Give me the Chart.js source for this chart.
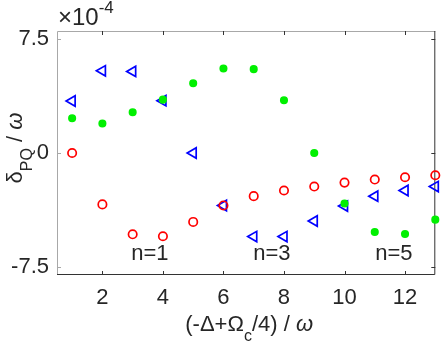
<!DOCTYPE html>
<html><head><meta charset="utf-8">
<script src="https://cdn.jsdelivr.net/npm/chart.js@4/dist/chart.umd.min.js"></script>
<style>html,body{margin:0;padding:0;background:#fff}#wrap{width:443px;height:343px}</style>
</head><body><div id="wrap"><canvas id="c" width="443" height="343"></canvas></div>
<script>
// x: (-Δ+Ωc/4)/ω ; y values in units of 1e-4
const detuning = [1,2,3,4,5,6,7,8,9,10,11,12,13];
const redCircles = [0.00,-3.37,-5.33,-5.46,-4.52,-3.44,-2.83,-2.46,-2.20,-1.94,-1.74,-1.59,-1.46];
const blueTriangles = [3.41,5.39,5.35,3.43,0.00,-3.44,-5.48,-5.48,-4.46,-3.48,-2.83,-2.46,-2.20];
const greenDots = [2.28,1.93,2.67,3.50,4.57,5.54,5.50,3.46,0.00,-3.31,-5.18,-5.31,-4.37];
const xTicks = [2,4,6,8,10,12];
const yTicks = [-7.5,0,7.5];
const bandLabels = ['n=1','n=3','n=5'];
const bandLabelX = [3.57,7.6,11.63];
const bandLabelY = [-6.64,-6.64,-6.64];

const FONT = '"Liberation Sans", Arial, Helvetica, sans-serif';
const pts = arr => detuning.map((x,i)=>({x, y: arr[i]}));

function drawRich(ctx, segs, x, y, align) {
  let total = 0;
  segs.forEach(s => { ctx.font = (s.italic?'italic ':'') + s.size + 'px ' + FONT; s.w = ctx.measureText(s.t).width; total += s.w; });
  let cx = align === 'center' ? x - total/2 : x;
  ctx.textAlign = 'left'; ctx.textBaseline = 'alphabetic';
  segs.forEach(s => { ctx.font = (s.italic?'italic ':'') + s.size + 'px ' + FONT; ctx.fillText(s.t, cx, y + (s.dy||0)); cx += s.w; });
}

const framePlugin = {
  id: 'frame',
  beforeDatasetsDraw(chart) {
    const {ctx, chartArea: a, scales: {x, y}} = chart;
    ctx.save();
    ctx.lineWidth = 1;
    ctx.strokeStyle = '#a8a8a8';
    ctx.beginPath();
    ctx.moveTo(a.left + 0.5, a.bottom); ctx.lineTo(a.left + 0.5, a.top + 0.5); ctx.lineTo(a.right, a.top + 0.5);
    ctx.stroke();
    ctx.beginPath();
    yTicks.forEach(v => { const p = Math.round(y.getPixelForValue(v)) + 0.5; ctx.moveTo(a.left, p); ctx.lineTo(a.left + 4, p); });
    ctx.stroke();
    ctx.strokeStyle = '#333333';
    ctx.beginPath();
    ctx.moveTo(a.left, a.bottom - 0.5); ctx.lineTo(a.right - 0.5, a.bottom - 0.5); ctx.lineTo(a.right - 0.5, a.top);
    ctx.stroke();
    ctx.beginPath();
    xTicks.forEach(v => {
      const p = Math.round(x.getPixelForValue(v)) + 0.5;
      ctx.moveTo(p, a.bottom); ctx.lineTo(p, a.bottom - 4);
      ctx.moveTo(p, a.top); ctx.lineTo(p, a.top + 4);
    });
    yTicks.forEach(v => { const p = Math.round(y.getPixelForValue(v)) + 0.5; ctx.moveTo(a.right, p); ctx.lineTo(a.right - 4, p); });
    ctx.stroke();
    ctx.restore();
  },
  afterDraw(chart) {
    const {ctx, chartArea: a, scales: {x, y}} = chart;
    ctx.save();
    ctx.fillStyle = '#262626';
    ctx.font = '22px ' + FONT; ctx.textAlign = 'center'; ctx.textBaseline = 'middle';
    bandLabels.forEach((t, i) => ctx.fillText(t, x.getPixelForValue(bandLabelX[i]), y.getPixelForValue(bandLabelY[i])));
    drawRich(ctx, [{t:'×10', size:24}, {t:'-4', size:17, dy:-12}], a.left + 1, 25, 'left');
    drawRich(ctx, [{t:'(-Δ+Ω', size:22}, {t:'c', size:16, dy:10}, {t:'/4) / ', size:22}, {t:'ω', size:22, italic:true}], (a.left + a.right)/2 + 3, 331, 'center');
    ctx.translate(22, (a.top + a.bottom)/2 - 5);
    ctx.rotate(-Math.PI/2);
    drawRich(ctx, [{t:'δ', size:22}, {t:'PQ', size:16, dy:10}, {t:' / ', size:22}, {t:'ω', size:22, italic:true}], 0, 0, 'center');
    ctx.restore();
  }
};

new Chart(document.getElementById('c'), {
  type: 'scatter',
  data: {
    datasets: [
      { label: 'green', data: pts(greenDots), pointStyle: 'circle', pointRadius: 3.3, borderWidth: 1.5,
        borderColor: '#00f000', backgroundColor: '#00f000', order: 0, clip: false },
      { label: 'red', data: pts(redCircles), pointStyle: 'circle', pointRadius: 4.2, borderWidth: 1.7,
        borderColor: '#ff0000', backgroundColor: 'rgba(0,0,0,0)', order: 1, clip: false },
      { label: 'blue', data: pts(blueTriangles), pointStyle: 'triangle', rotation: -90, pointRadius: 6, borderWidth: 1.7,
        borderColor: '#0000ff', backgroundColor: 'rgba(0,0,0,0)', order: 2, clip: false }
    ]
  },
  options: {
    responsive: false, animation: false, devicePixelRatio: 1,
    layout: { padding: { top: 31, right: 6, left: 0, bottom: 0 } },
    plugins: { legend: { display: false }, tooltip: { enabled: false } },
    scales: {
      x: {
        type: 'linear', min: 0.5, max: 13,
        afterBuildTicks: s => { s.ticks = xTicks.map(v => ({ value: v })); },
        afterFit: s => { s.height = 68; },
        grid: { display: false, drawTicks: false }, border: { display: false },
        ticks: { font: { size: 22, family: FONT }, color: '#262626', padding: 10, maxRotation: 0, autoSkip: false }
      },
      y: {
        type: 'linear', min: -8, max: 8,
        afterBuildTicks: s => { s.ticks = yTicks.map(v => ({ value: v })); },
        afterFit: s => { s.width = 57; },
        grid: { display: false, drawTicks: false }, border: { display: false },
        ticks: { font: { size: 22, family: FONT }, color: '#262626', padding: 8, autoSkip: false,
                 callback: v => String(v) }
      }
    }
  },
  plugins: [framePlugin]
});
</script></body></html>
